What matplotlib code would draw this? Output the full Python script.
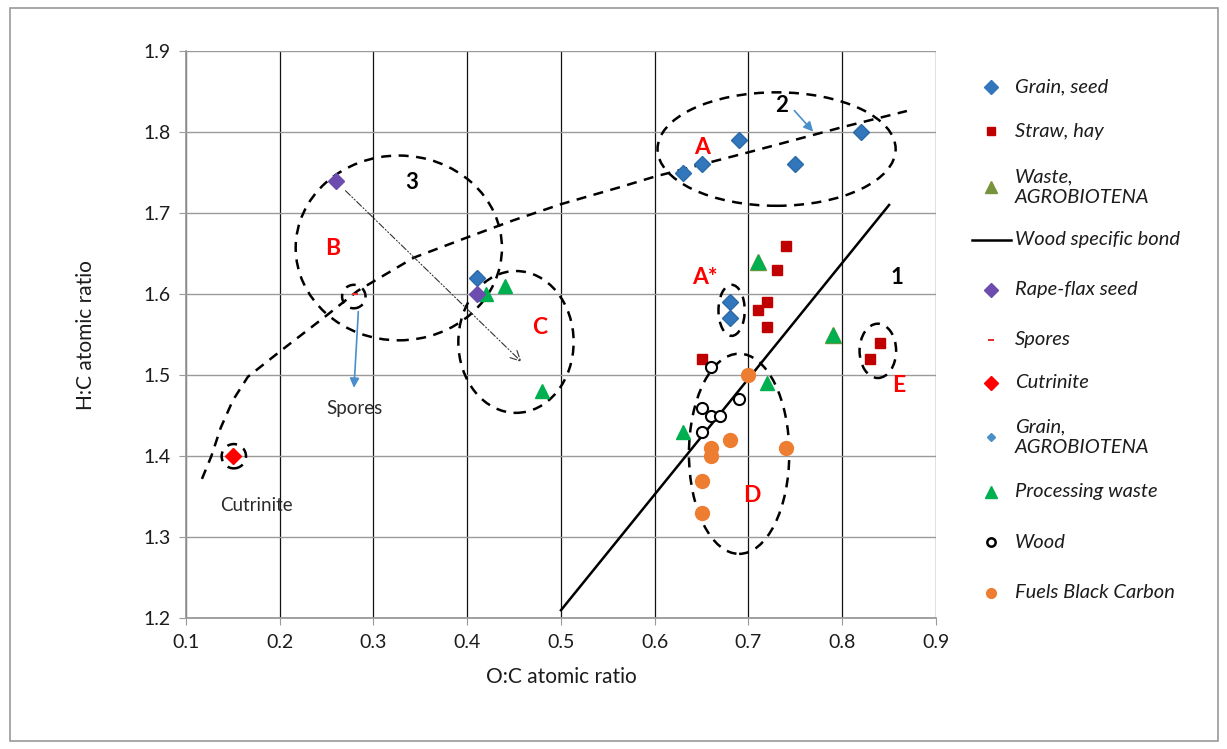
import matplotlib.pyplot as plt
import matplotlib.patches as mpatches
from matplotlib.lines import Line2D

plt.rcParams["font.family"] = ["Lato", "DejaVu Sans"]

# --- data ---
grain_x = [0.63, 0.65, 0.69, 0.75, 0.82, 0.41, 0.68, 0.68]
grain_y = [1.75, 1.76, 1.79, 1.76, 1.80, 1.62, 1.59, 1.57]

straw_x = [0.74, 0.73, 0.72, 0.71, 0.72, 0.65, 0.84, 0.83]
straw_y = [1.66, 1.63, 1.59, 1.58, 1.56, 1.52, 1.54, 1.52]

waste_agro_x = [0.71, 0.79]
waste_agro_y = [1.64, 1.55]

proc_x = [0.71, 0.79, 0.72, 0.63, 0.42, 0.44, 0.48]
proc_y = [1.64, 1.55, 1.49, 1.43, 1.60, 1.61, 1.48]

rape_x = [0.26, 0.41]
rape_y = [1.74, 1.60]

spores_x = [0.28]
spores_y = [1.60]

cutrinite_x = [0.15]
cutrinite_y = [1.40]

wood_x = [0.66, 0.65, 0.66, 0.67, 0.69, 0.65]
wood_y = [1.51, 1.46, 1.45, 1.45, 1.47, 1.43]

fuels_x = [0.70, 0.66, 0.66, 0.68, 0.74, 0.65, 0.65]
fuels_y = [1.50, 1.41, 1.40, 1.42, 1.41, 1.37, 1.33]

bond_x = [0.50, 0.85]
bond_y = [1.21, 1.71]

trend_x = [0.117, 0.127, 0.137, 0.15, 0.166, 0.201, 0.247, 0.283, 0.343,
           0.40, 0.449, 0.50, 0.563, 0.60, 0.70, 0.80, 0.869]
trend_y = [1.372, 1.40, 1.435, 1.469, 1.498, 1.530, 1.571, 1.604, 1.645,
           1.670, 1.691, 1.711, 1.732, 1.745, 1.775, 1.806, 1.826]

# ellipses: (centre x, centre y, width, height)
groups = [
    (0.730, 1.779, 0.254, 0.140),   # A
    (0.327, 1.657, 0.220, 0.228),   # 3 / B
    (0.452, 1.541, 0.123, 0.175),   # C
    (0.690, 1.403, 0.107, 0.247),   # D
    (0.682, 1.580, 0.028, 0.063),   # A*
    (0.838, 1.530, 0.039, 0.067),   # E
    (0.151, 1.400, 0.026, 0.030),   # cutrinite
    (0.279, 1.597, 0.025, 0.029),   # spores
]

red_labels = [("A", 0.650, 1.781), ("B", 0.256, 1.656), ("C", 0.477, 1.559),
              ("D", 0.704, 1.352), ("E", 0.860, 1.487), ("A*", 0.654, 1.621)]
num_labels = [("1", 0.858, 1.621), ("2", 0.735, 1.833), ("3", 0.341, 1.738)]

BLUE = "#3276bb"
RED = "#c00000"
OLIVE = "#77933c"
GREEN = "#00b050"
PURPLE = "#6d4cb0"
ORANGE = "#ed7d31"
TXT = "#1c1c1c"

fig = plt.figure(figsize=(12.27, 7.49), dpi=100)
fig.patches.append(mpatches.Rectangle((10 / 1227, 8 / 749), 1208 / 1227, 733 / 749,
                                      transform=fig.transFigure, fill=False,
                                      edgecolor="#9a9a9a", lw=1.2))

ax = fig.add_axes([0.1516, 0.1745, 0.6112, 0.7574])
ax.set_xlim(0.1, 0.9)
ax.set_ylim(1.2, 1.9)
ax.set_xticks([0.1, 0.2, 0.3, 0.4, 0.5, 0.6, 0.7, 0.8, 0.9])
ax.set_yticks([1.2, 1.3, 1.4, 1.5, 1.6, 1.7, 1.8, 1.9])
ax.set_xticklabels(["0.1", "0.2", "0.3", "0.4", "0.5", "0.6", "0.7", "0.8", "0.9"])
ax.set_yticklabels(["1.2", "1.3", "1.4", "1.5", "1.6", "1.7", "1.8", "1.9"])
ax.tick_params(labelsize=14, colors="#9a9a9a", labelcolor=TXT,
               direction="out", length=5, pad=6)
ax.grid(axis="x", color="#111111", lw=0.9)
ax.grid(axis="y", color="#9a9a9a", lw=1.0)
for s in ["top", "right"]:
    ax.spines[s].set_visible(False)
for s in ["left", "bottom"]:
    ax.spines[s].set_color("#9a9a9a")
    ax.spines[s].set_linewidth(1.3)
ax.set_axisbelow(True)
ax.set_xlabel("O:C atomic ratio", fontsize=15, color=TXT, labelpad=12)
ax.set_ylabel("H:C atomic ratio", fontsize=15, color=TXT, labelpad=34)

# curves
ax.plot(trend_x, trend_y, color="black", lw=1.8, ls=(0, (4, 3)), zorder=2)
ax.plot(bond_x, bond_y, color="black", lw=1.8, zorder=2)

for cx, cy, w, h in groups:
    ax.add_patch(mpatches.Ellipse((cx, cy), w, h, fill=False, edgecolor="black",
                                  lw=1.8, ls=(0, (4, 3)), zorder=2))

# arrows
ax.annotate("", xy=(0.46, 1.514), xytext=(0.268, 1.730),
            arrowprops=dict(arrowstyle="->", color="#333333", lw=0.8,
                            ls=(0, (6, 2, 1, 2, 1, 2)), mutation_scale=18))
ax.annotate("", xy=(0.279, 1.481), xytext=(0.284, 1.582),
            arrowprops=dict(arrowstyle="-|>", color="#4a8fcc", lw=1.2,
                            mutation_scale=14))
ax.annotate("", xy=(0.771, 1.798), xytext=(0.747, 1.829),
            arrowprops=dict(arrowstyle="-|>", color="#4a8fcc", lw=1.2,
                            mutation_scale=14))

# points
ax.plot(grain_x, grain_y, "D", color=BLUE, ms=8.5, mec="#2a6aa8", ls="none", zorder=4)
ax.plot(straw_x, straw_y, "s", color=RED, ms=6.5, ls="none", zorder=4)
ax.plot(waste_agro_x, waste_agro_y, "^", color=OLIVE, ms=11, ls="none", zorder=4)
ax.plot(proc_x, proc_y, "^", color=GREEN, ms=9.5, ls="none", zorder=4)
ax.plot(rape_x, rape_y, "D", color=PURPLE, ms=8, ls="none", zorder=4)
ax.plot(spores_x, spores_y, "_", color="#e03030", ms=5, mew=1.5, ls="none", zorder=4)
ax.plot(cutrinite_x, cutrinite_y, "D", color="#ff0000", ms=8, ls="none", zorder=4)
ax.plot(wood_x, wood_y, "o", mfc="white", mec="black", mew=1.5, ms=8, ls="none", zorder=4)
ax.plot(fuels_x, fuels_y, "o", color=ORANGE, ms=10, ls="none", zorder=4)

# labels
for t, x, y in red_labels:
    ax.text(x, y, t, color="#ff0000", fontsize=16.5, fontweight="bold",
            ha="center", va="center", zorder=5)
for t, x, y in num_labels:
    ax.text(x, y, t, color="black", fontsize=16, fontweight="bold",
            ha="center", va="center", zorder=5)
ax.text(0.28, 1.459, "Spores", fontsize=13.5, color="#2a2a2a", ha="center", va="center")
ax.text(0.175, 1.339, "Cutrinite", fontsize=13.5, color="#2a2a2a", ha="center", va="center")

# legend, drawn by hand to keep Excel-like equal slots
legend_items = [
    ("Grain, seed", dict(marker="D", color=BLUE, ms=7)),
    ("Straw, hay", dict(marker="s", color=RED, ms=6)),
    ("Waste,\nAGROBIOTENA", dict(marker="^", color=OLIVE, ms=8)),
    ("Wood specific bond", None),
    ("Rape-flax seed", dict(marker="D", color=PURPLE, ms=7)),
    ("Spores", dict(marker="_", color="#e03030", ms=5, mew=1.5)),
    ("Cutrinite", dict(marker="D", color="#ff0000", ms=7)),
    ("Grain,\nAGROBIOTENA", dict(marker="D", color="#4a90c8", ms=4.5)),
    ("Processing waste", dict(marker="^", color=GREEN, ms=8)),
    ("Wood", dict(marker="o", mfc="white", mec="black", mew=1.8, ms=6)),
    ("Fuels Black Carbon", dict(marker="o", color=ORANGE, ms=7)),
]
legend_y = [87, 131, 187, 240, 290, 340, 383, 437, 492, 542, 593]

lax = fig.add_axes([0, 0, 1, 1], facecolor="none")
lax.set_xlim(0, 1227)
lax.set_ylim(749, 0)
lax.axis("off")
for (label, style), y in zip(legend_items, legend_y):
    if style is None:
        lax.add_line(Line2D([972, 1011], [y, y], color="black", lw=1.8))
    else:
        lax.add_line(Line2D([991], [y], ls="none", **style))
    lax.text(1015, y, label, fontsize=14.5, style="italic", color=TXT,
             ha="left", va="center", linespacing=1.3)

fig.savefig("out.png", dpi=100)
